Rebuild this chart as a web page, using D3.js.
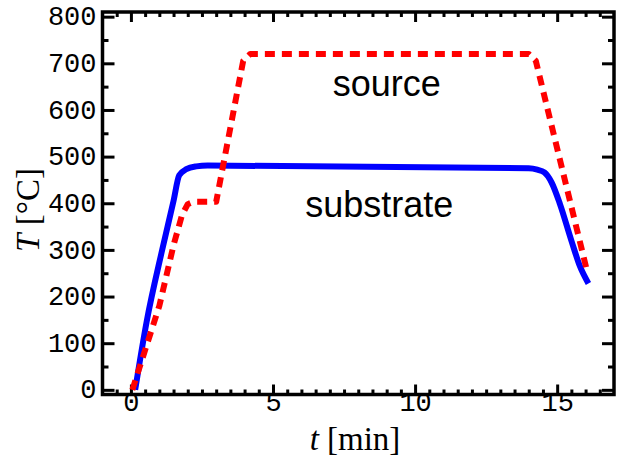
<!DOCTYPE html>
<html>
<head>
<meta charset="utf-8">
<script src="https://cdn.jsdelivr.net/npm/d3@7"></script>
<style>
  body { margin: 0; background: #fff; }
  .tick text { font-family: "Liberation Mono", monospace; font-size: 27px; fill: #000; }
  .tick line { stroke: #000; stroke-width: 3px; }
  .label { font-family: "Liberation Sans", Arial, sans-serif; font-size: 36px; fill: #000; }
  .title { font-family: "Liberation Serif", "DejaVu Serif", serif; font-size: 33px; fill: #000; }
</style>
</head>
<body>
<svg id="canvas" width="619" height="461"></svg>
<script>
// Substrate (blue, solid) and source (red, dashed) temperature profiles
var subTime = [0.15, 0.55, 1.1, 1.5, 1.7, 1.95, 2.3, 2.7, 14.0, 14.3, 14.55, 14.8, 15.1, 15.5, 15.8, 16.1];
var subTemp = [0, 145, 300, 405, 460, 473, 479, 481, 475, 472, 466, 445, 398, 320, 265, 228];

var srcTime = [0.05, 1.0, 1.5, 1.8, 2.0, 2.2, 3.0, 3.95, 4.2, 14.0, 14.25, 16.05];
var srcTemp = [0, 180, 310, 375, 398, 403, 403, 705, 720, 720, 705, 255];

var xMajor = [0, 5, 10, 15];
var yMajor = [0, 100, 200, 300, 400, 500, 600, 700, 800];

var svg = d3.select("#canvas");

var margin = {top: 12, right: 5, bottom: 66.5, left: 102.5},
    width = 619 - margin.left - margin.right,
    height = 461 - margin.top - margin.bottom;

var x = d3.scaleLinear().domain([-1, 17]).range([0, width]);
var y = d3.scaleLinear().domain([-10, 810]).range([height, 0]);

var xMinor = d3.range(-0.5, 17, 0.5).filter(function(d) { return xMajor.indexOf(d) < 0; });
var yMinor = d3.range(50, 810, 100);

var g = svg.append("g")
    .attr("transform", "translate(" + margin.left + "," + margin.top + ")");

// Minor ticks on all four sides
g.append("g").attr("transform", "translate(0," + height + ")")
    .call(d3.axisBottom(x).tickValues(xMinor).tickSize(-5).tickFormat(""));
g.append("g")
    .call(d3.axisTop(x).tickValues(xMinor).tickSize(-5).tickFormat(""));
g.append("g")
    .call(d3.axisLeft(y).tickValues(yMinor).tickSize(-6).tickFormat(""));
g.append("g").attr("transform", "translate(" + width + ",0)")
    .call(d3.axisRight(y).tickValues(yMinor).tickSize(-6).tickFormat(""));

// Major ticks with labels
g.append("g").attr("class", "x axis").attr("transform", "translate(0," + height + ")")
    .call(d3.axisBottom(x).tickValues(xMajor).tickSize(-10).tickPadding(11).tickFormat(d3.format("d")));
g.append("g")
    .call(d3.axisTop(x).tickValues(xMajor).tickSize(-10).tickFormat(""));
g.append("g").attr("class", "y axis")
    .call(d3.axisLeft(y).tickValues(yMajor).tickSize(-12).tickPadding(6).tickFormat(d3.format("d")));
g.append("g").attr("transform", "translate(" + width + ",0)")
    .call(d3.axisRight(y).tickValues(yMajor).tickSize(-12).tickFormat(""));

g.selectAll(".domain").remove();
g.selectAll(".x.axis .tick text").attr("dy", "0.2em");
g.selectAll(".y.axis .tick text").attr("dy", "0.3em");

// Plot frame
g.append("rect")
    .attr("width", width).attr("height", height)
    .style("fill", "none").style("stroke", "#000").style("stroke-width", 3.5);

var line = d3.line()
    .x(function(d) { return x(d[0]); })
    .y(function(d) { return y(d[1]); });

g.append("path")
    .attr("d", line.curve(d3.curveMonotoneX)(d3.zip(subTime, subTemp)))
    .style("fill", "none").style("stroke", "#0000ff")
    .style("stroke-width", 6).style("stroke-linejoin", "round");

g.append("path")
    .attr("d", line.curve(d3.curveLinear)(d3.zip(srcTime, srcTemp)))
    .style("fill", "none").style("stroke", "#ff0000")
    .style("stroke-width", 6).style("stroke-dasharray", "10,7")
    .style("stroke-linejoin", "round");

// Curve labels
g.append("text").attr("class", "label")
    .attr("x", x(9.0)).attr("y", y(630))
    .attr("text-anchor", "middle").text("source");

g.append("text").attr("class", "label")
    .attr("x", x(8.74)).attr("y", y(371))
    .attr("text-anchor", "middle").text("substrate");

// Axis titles
var xt = svg.append("text").attr("class", "title")
    .attr("x", 355).attr("y", 450).attr("text-anchor", "middle");
xt.append("tspan").style("font-style", "italic").text("t");
xt.append("tspan").text(" [min]");

var yt = svg.append("text").attr("class", "title")
    .attr("transform", "translate(39,210) rotate(-90)").attr("text-anchor", "middle");
yt.append("tspan").style("font-style", "italic").text("T");
yt.append("tspan").text(" [°C]");
</script>
</body>
</html>
